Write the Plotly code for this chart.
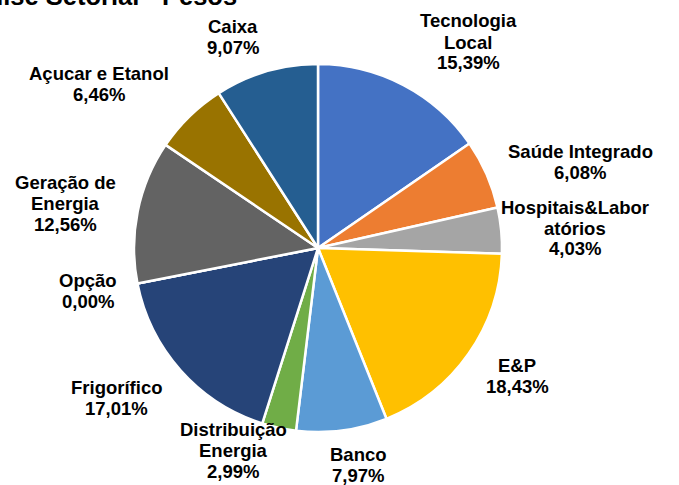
import plotly.graph_objects as go

labels = ["Tecnologia<br>Local", "Saúde Integrado", "Hospitais&Labor<br>atórios", "E&P", "Banco",
          "Distribuição<br>Energia", "Frigorífico", "Opção", "Geração de<br>Energia",
          "Açucar e Etanol", "Caixa"]
values = [15.39, 6.08, 4.03, 18.43, 7.97, 2.99, 17.01, 0.00, 12.56, 6.46, 9.07]
colors = ["#4472C4", "#ED7D31", "#A5A5A5", "#FFC000", "#5B9BD5", "#70AD47",
          "#264478", "#9E480E", "#636363", "#997300", "#255E91"]
title_text = "Análise Setorial - Pesos"

# label centre positions in pixels (layout)
label_pos = [(468, 42), (580, 162), (575, 228), (517, 376), (358, 465), (233, 450),
             (116, 398), (88, 291), (65, 203), (99, 84), (233, 37)]

W, H = 679, 485
cx, cy, r = 318, 248, 184
line_h = 21

fig = go.Figure(go.Pie(
    labels=labels, values=values, sort=False, direction="clockwise", rotation=0,
    marker=dict(colors=colors, line=dict(color="white", width=2.5)),
    textinfo="none", hoverinfo="label+percent", showlegend=False,
    domain=dict(x=[(cx - r) / W, (cx + r) / W], y=[1 - (cy + r) / H, 1 - (cy - r) / H]),
))

font = dict(family="Liberation Sans, Arial, sans-serif", size=18.5, color="#000000")
for lab, val, (px, py) in zip(labels, values, label_pos):
    lines = lab.split("<br>") + [f"{val:.2f}%".replace(".", ",")]
    n = len(lines)
    for i, ln in enumerate(lines):
        ly = py + (i - (n - 1) / 2) * line_h
        fig.add_annotation(x=px / W, y=1 - ly / H, xref="paper", yref="paper",
                           text=f"<b>{ln}</b>", showarrow=False, font=font,
                           xanchor="center", yanchor="middle")

fig.add_annotation(x=239 / W, y=1 - 8 / H, xref="paper", yref="paper",
                   text=f"<b>{title_text}</b>", showarrow=False,
                   font=dict(family="Liberation Sans, Arial, sans-serif", size=25.5, color="#000000"),
                   xanchor="right", yanchor="bottom", yshift=-4)

fig.update_layout(width=W, height=H, margin=dict(l=0, r=0, t=0, b=0),
                  paper_bgcolor="white", plot_bgcolor="white")
fig.write_html("out.html", config={"displayModeBar": False},
               post_script="document.body.style.margin='0';")
